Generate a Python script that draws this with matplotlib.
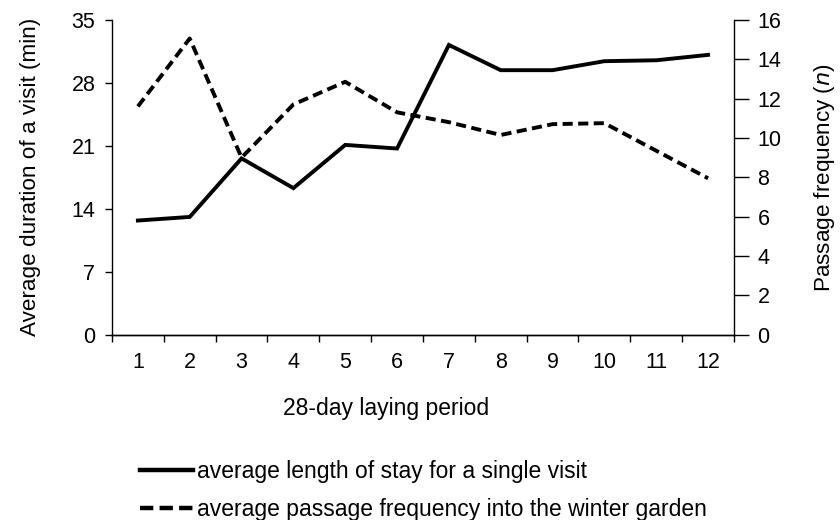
import numpy as np
import matplotlib.pyplot as plt
from matplotlib.lines import Line2D

plt.rcParams['font.family'] = ['Liberation Sans', 'DejaVu Sans']

periods = [1, 2, 3, 4, 5, 6, 7, 8, 9, 10, 11, 12]
stay_min = [12.7, 13.1, 19.6, 16.3, 21.1, 20.7, 32.2, 29.4, 29.4, 30.4, 30.5, 31.1]
passage_n = [11.6, 15.05, 9.0, 11.7, 12.85, 11.3, 10.8, 10.15, 10.7, 10.75, 9.35, 7.95]

left_ticks = [0, 7, 14, 21, 28, 35]
right_ticks = [0, 2, 4, 6, 8, 10, 12, 14, 16]

fs = 16.5
tfs = 15.5
fig = plt.figure(figsize=(8.4, 5.2), dpi=100)
ax = fig.add_axes([0.1333, 0.356, 0.7405, 0.606])
ax2 = ax.twinx()

lw = 2.8
ax.plot(periods, stay_min, color='black', lw=lw, solid_joinstyle='miter')
ax2.plot(periods, passage_n, color='black', lw=lw, dashes=(2.6, 1.4))

ax.set_xlim(0.5, 12.5)
ax.set_ylim(0, 35)
ax2.set_ylim(0, 16)
ax.set_yticks(left_ticks)
ax2.set_yticks(right_ticks)
ax.set_xticks(periods)
ax.set_xticks(np.arange(0.5, 13, 1), minor=True)
ax.tick_params(axis='x', which='major', length=0, pad=12, labelsize=tfs)
ax.tick_params(axis='x', which='minor', length=5, width=1, direction='out')
ax.tick_params(axis='y', length=5, width=1, labelsize=tfs, pad=7)
ax2.tick_params(axis='y', length=11, width=1, labelsize=tfs, pad=6)

for a in (ax, ax2):
    a.spines['top'].set_visible(False)
    for s in a.spines.values():
        s.set_linewidth(1)
ax.spines['right'].set_visible(False)
ax2.spines['left'].set_visible(False)

ax.set_ylabel('Average duration of a visit (min)', fontsize=16.2, labelpad=22)
ax2.set_ylabel('Passage frequency ($\\mathit{n}$)', fontsize=16.2, labelpad=22)

fig.text(0.46, 0.215, '28-day laying period', fontsize=fs, ha='center', va='center')

handles = [Line2D([], [], color='black', lw=3.2),
           Line2D([], [], color='black', lw=3.2, dashes=(3, 1.4))]
labels = ['average length of stay for a single visit',
          'average passage frequency into the winter garden']
fig.legend(handles, labels, loc='upper left', bbox_to_anchor=(0.1667, 0.115),
           frameon=False, fontsize=fs, handlelength=2.3, handletextpad=0.17,
           labelspacing=0.65, borderaxespad=0, borderpad=0)

fig.savefig('out.png', dpi=100)
